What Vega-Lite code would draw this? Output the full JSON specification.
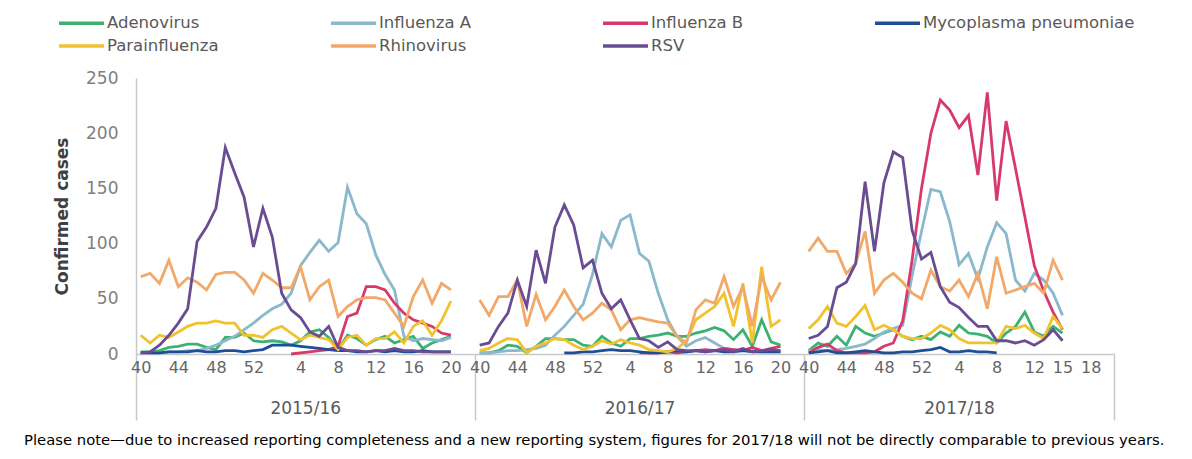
{
"$schema": "https://vega.github.io/schema/vega-lite/v6.json",
"background": "white",
"padding": {"left": 24, "top": 12, "right": 5, "bottom": 5},
"title": {"text": "Please note—due to increased reporting completeness and a new reporting system, figures for 2017/18 will not be directly comparable to previous years.", "orient": "bottom", "anchor": "middle", "font": "DejaVu Sans", "fontSize": 14.8, "fontWeight": "normal", "color": "#000000", "offset": 12},
"spacing": 0,
"bounds": "flush",
"resolve": {"scale": {"color": "shared"}, "legend": {"color": "shared"}},
"config": {"view": {"stroke": null}, "font": "DejaVu Sans", "axis": {"grid": false, "domainColor": "#c8c8c8", "domainWidth": 1.5}},
"data": {"values": [
{"season":"2015/16","week":40,"virus":"Adenovirus","cases":2},{"season":"2015/16","week":41,"virus":"Adenovirus","cases":2},{"season":"2015/16","week":42,"virus":"Adenovirus","cases":3},{"season":"2015/16","week":43,"virus":"Adenovirus","cases":6},{"season":"2015/16","week":44,"virus":"Adenovirus","cases":7},{"season":"2015/16","week":45,"virus":"Adenovirus","cases":9},{"season":"2015/16","week":46,"virus":"Adenovirus","cases":9},{"season":"2015/16","week":47,"virus":"Adenovirus","cases":6},{"season":"2015/16","week":48,"virus":"Adenovirus","cases":4},{"season":"2015/16","week":49,"virus":"Adenovirus","cases":15},{"season":"2015/16","week":50,"virus":"Adenovirus","cases":15},{"season":"2015/16","week":51,"virus":"Adenovirus","cases":19},{"season":"2015/16","week":52,"virus":"Adenovirus","cases":12},{"season":"2015/16","week":53,"virus":"Adenovirus","cases":11},{"season":"2015/16","week":1,"virus":"Adenovirus","cases":12},{"season":"2015/16","week":2,"virus":"Adenovirus","cases":11},{"season":"2015/16","week":3,"virus":"Adenovirus","cases":8},{"season":"2015/16","week":4,"virus":"Adenovirus","cases":12},{"season":"2015/16","week":5,"virus":"Adenovirus","cases":20},{"season":"2015/16","week":6,"virus":"Adenovirus","cases":22},{"season":"2015/16","week":7,"virus":"Adenovirus","cases":15},{"season":"2015/16","week":8,"virus":"Adenovirus","cases":4},{"season":"2015/16","week":9,"virus":"Adenovirus","cases":17},{"season":"2015/16","week":10,"virus":"Adenovirus","cases":14},{"season":"2015/16","week":11,"virus":"Adenovirus","cases":8},{"season":"2015/16","week":12,"virus":"Adenovirus","cases":13},{"season":"2015/16","week":13,"virus":"Adenovirus","cases":16},{"season":"2015/16","week":14,"virus":"Adenovirus","cases":10},{"season":"2015/16","week":15,"virus":"Adenovirus","cases":13},{"season":"2015/16","week":16,"virus":"Adenovirus","cases":16},{"season":"2015/16","week":17,"virus":"Adenovirus","cases":5},{"season":"2015/16","week":18,"virus":"Adenovirus","cases":10},{"season":"2015/16","week":19,"virus":"Adenovirus","cases":13},{"season":"2015/16","week":20,"virus":"Adenovirus","cases":16},
{"season":"2015/16","week":40,"virus":"Influenza A","cases":1},{"season":"2015/16","week":41,"virus":"Influenza A","cases":1},{"season":"2015/16","week":42,"virus":"Influenza A","cases":1},{"season":"2015/16","week":43,"virus":"Influenza A","cases":2},{"season":"2015/16","week":44,"virus":"Influenza A","cases":2},{"season":"2015/16","week":45,"virus":"Influenza A","cases":3},{"season":"2015/16","week":46,"virus":"Influenza A","cases":3},{"season":"2015/16","week":47,"virus":"Influenza A","cases":5},{"season":"2015/16","week":48,"virus":"Influenza A","cases":8},{"season":"2015/16","week":49,"virus":"Influenza A","cases":12},{"season":"2015/16","week":50,"virus":"Influenza A","cases":16},{"season":"2015/16","week":51,"virus":"Influenza A","cases":22},{"season":"2015/16","week":52,"virus":"Influenza A","cases":28},{"season":"2015/16","week":53,"virus":"Influenza A","cases":35},{"season":"2015/16","week":1,"virus":"Influenza A","cases":41},{"season":"2015/16","week":2,"virus":"Influenza A","cases":45},{"season":"2015/16","week":3,"virus":"Influenza A","cases":55},{"season":"2015/16","week":4,"virus":"Influenza A","cases":80},{"season":"2015/16","week":5,"virus":"Influenza A","cases":92},{"season":"2015/16","week":6,"virus":"Influenza A","cases":103},{"season":"2015/16","week":7,"virus":"Influenza A","cases":93},{"season":"2015/16","week":8,"virus":"Influenza A","cases":101},{"season":"2015/16","week":9,"virus":"Influenza A","cases":151},{"season":"2015/16","week":10,"virus":"Influenza A","cases":127},{"season":"2015/16","week":11,"virus":"Influenza A","cases":118},{"season":"2015/16","week":12,"virus":"Influenza A","cases":90},{"season":"2015/16","week":13,"virus":"Influenza A","cases":72},{"season":"2015/16","week":14,"virus":"Influenza A","cases":58},{"season":"2015/16","week":15,"virus":"Influenza A","cases":16},{"season":"2015/16","week":16,"virus":"Influenza A","cases":12},{"season":"2015/16","week":17,"virus":"Influenza A","cases":14},{"season":"2015/16","week":18,"virus":"Influenza A","cases":13},{"season":"2015/16","week":19,"virus":"Influenza A","cases":12},{"season":"2015/16","week":20,"virus":"Influenza A","cases":15},
{"season":"2015/16","week":3,"virus":"Influenza B","cases":0},{"season":"2015/16","week":4,"virus":"Influenza B","cases":1},{"season":"2015/16","week":5,"virus":"Influenza B","cases":2},{"season":"2015/16","week":6,"virus":"Influenza B","cases":3},{"season":"2015/16","week":7,"virus":"Influenza B","cases":4},{"season":"2015/16","week":8,"virus":"Influenza B","cases":7},{"season":"2015/16","week":9,"virus":"Influenza B","cases":34},{"season":"2015/16","week":10,"virus":"Influenza B","cases":37},{"season":"2015/16","week":11,"virus":"Influenza B","cases":61},{"season":"2015/16","week":12,"virus":"Influenza B","cases":61},{"season":"2015/16","week":13,"virus":"Influenza B","cases":58},{"season":"2015/16","week":14,"virus":"Influenza B","cases":46},{"season":"2015/16","week":15,"virus":"Influenza B","cases":37},{"season":"2015/16","week":16,"virus":"Influenza B","cases":31},{"season":"2015/16","week":17,"virus":"Influenza B","cases":28},{"season":"2015/16","week":18,"virus":"Influenza B","cases":25},{"season":"2015/16","week":19,"virus":"Influenza B","cases":19},{"season":"2015/16","week":20,"virus":"Influenza B","cases":17},
{"season":"2015/16","week":40,"virus":"Mycoplasma pneumoniae","cases":1},{"season":"2015/16","week":41,"virus":"Mycoplasma pneumoniae","cases":1},{"season":"2015/16","week":42,"virus":"Mycoplasma pneumoniae","cases":1},{"season":"2015/16","week":43,"virus":"Mycoplasma pneumoniae","cases":2},{"season":"2015/16","week":44,"virus":"Mycoplasma pneumoniae","cases":2},{"season":"2015/16","week":45,"virus":"Mycoplasma pneumoniae","cases":2},{"season":"2015/16","week":46,"virus":"Mycoplasma pneumoniae","cases":3},{"season":"2015/16","week":47,"virus":"Mycoplasma pneumoniae","cases":2},{"season":"2015/16","week":48,"virus":"Mycoplasma pneumoniae","cases":2},{"season":"2015/16","week":49,"virus":"Mycoplasma pneumoniae","cases":3},{"season":"2015/16","week":50,"virus":"Mycoplasma pneumoniae","cases":3},{"season":"2015/16","week":51,"virus":"Mycoplasma pneumoniae","cases":2},{"season":"2015/16","week":52,"virus":"Mycoplasma pneumoniae","cases":3},{"season":"2015/16","week":53,"virus":"Mycoplasma pneumoniae","cases":4},{"season":"2015/16","week":1,"virus":"Mycoplasma pneumoniae","cases":8},{"season":"2015/16","week":2,"virus":"Mycoplasma pneumoniae","cases":8},{"season":"2015/16","week":3,"virus":"Mycoplasma pneumoniae","cases":8},{"season":"2015/16","week":4,"virus":"Mycoplasma pneumoniae","cases":7},{"season":"2015/16","week":5,"virus":"Mycoplasma pneumoniae","cases":6},{"season":"2015/16","week":6,"virus":"Mycoplasma pneumoniae","cases":5},{"season":"2015/16","week":7,"virus":"Mycoplasma pneumoniae","cases":4},{"season":"2015/16","week":8,"virus":"Mycoplasma pneumoniae","cases":3},{"season":"2015/16","week":9,"virus":"Mycoplasma pneumoniae","cases":3},{"season":"2015/16","week":10,"virus":"Mycoplasma pneumoniae","cases":2},{"season":"2015/16","week":11,"virus":"Mycoplasma pneumoniae","cases":2},{"season":"2015/16","week":12,"virus":"Mycoplasma pneumoniae","cases":3},{"season":"2015/16","week":13,"virus":"Mycoplasma pneumoniae","cases":2},{"season":"2015/16","week":14,"virus":"Mycoplasma pneumoniae","cases":3},{"season":"2015/16","week":15,"virus":"Mycoplasma pneumoniae","cases":2},{"season":"2015/16","week":16,"virus":"Mycoplasma pneumoniae","cases":2},{"season":"2015/16","week":17,"virus":"Mycoplasma pneumoniae","cases":3},{"season":"2015/16","week":18,"virus":"Mycoplasma pneumoniae","cases":2},{"season":"2015/16","week":19,"virus":"Mycoplasma pneumoniae","cases":2},{"season":"2015/16","week":20,"virus":"Mycoplasma pneumoniae","cases":2},
{"season":"2015/16","week":40,"virus":"Parainfluenza","cases":17},{"season":"2015/16","week":41,"virus":"Parainfluenza","cases":10},{"season":"2015/16","week":42,"virus":"Parainfluenza","cases":17},{"season":"2015/16","week":43,"virus":"Parainfluenza","cases":15},{"season":"2015/16","week":44,"virus":"Parainfluenza","cases":20},{"season":"2015/16","week":45,"virus":"Parainfluenza","cases":25},{"season":"2015/16","week":46,"virus":"Parainfluenza","cases":28},{"season":"2015/16","week":47,"virus":"Parainfluenza","cases":28},{"season":"2015/16","week":48,"virus":"Parainfluenza","cases":30},{"season":"2015/16","week":49,"virus":"Parainfluenza","cases":28},{"season":"2015/16","week":50,"virus":"Parainfluenza","cases":28},{"season":"2015/16","week":51,"virus":"Parainfluenza","cases":17},{"season":"2015/16","week":52,"virus":"Parainfluenza","cases":17},{"season":"2015/16","week":53,"virus":"Parainfluenza","cases":15},{"season":"2015/16","week":1,"virus":"Parainfluenza","cases":22},{"season":"2015/16","week":2,"virus":"Parainfluenza","cases":25},{"season":"2015/16","week":3,"virus":"Parainfluenza","cases":19},{"season":"2015/16","week":4,"virus":"Parainfluenza","cases":13},{"season":"2015/16","week":5,"virus":"Parainfluenza","cases":17},{"season":"2015/16","week":6,"virus":"Parainfluenza","cases":15},{"season":"2015/16","week":7,"virus":"Parainfluenza","cases":13},{"season":"2015/16","week":8,"virus":"Parainfluenza","cases":4},{"season":"2015/16","week":9,"virus":"Parainfluenza","cases":15},{"season":"2015/16","week":10,"virus":"Parainfluenza","cases":17},{"season":"2015/16","week":11,"virus":"Parainfluenza","cases":8},{"season":"2015/16","week":12,"virus":"Parainfluenza","cases":14},{"season":"2015/16","week":13,"virus":"Parainfluenza","cases":14},{"season":"2015/16","week":14,"virus":"Parainfluenza","cases":20},{"season":"2015/16","week":15,"virus":"Parainfluenza","cases":10},{"season":"2015/16","week":16,"virus":"Parainfluenza","cases":25},{"season":"2015/16","week":17,"virus":"Parainfluenza","cases":30},{"season":"2015/16","week":18,"virus":"Parainfluenza","cases":17},{"season":"2015/16","week":19,"virus":"Parainfluenza","cases":30},{"season":"2015/16","week":20,"virus":"Parainfluenza","cases":48},
{"season":"2015/16","week":40,"virus":"Rhinovirus","cases":70},{"season":"2015/16","week":41,"virus":"Rhinovirus","cases":73},{"season":"2015/16","week":42,"virus":"Rhinovirus","cases":64},{"season":"2015/16","week":43,"virus":"Rhinovirus","cases":85},{"season":"2015/16","week":44,"virus":"Rhinovirus","cases":61},{"season":"2015/16","week":45,"virus":"Rhinovirus","cases":69},{"season":"2015/16","week":46,"virus":"Rhinovirus","cases":65},{"season":"2015/16","week":47,"virus":"Rhinovirus","cases":58},{"season":"2015/16","week":48,"virus":"Rhinovirus","cases":72},{"season":"2015/16","week":49,"virus":"Rhinovirus","cases":74},{"season":"2015/16","week":50,"virus":"Rhinovirus","cases":74},{"season":"2015/16","week":51,"virus":"Rhinovirus","cases":67},{"season":"2015/16","week":52,"virus":"Rhinovirus","cases":55},{"season":"2015/16","week":53,"virus":"Rhinovirus","cases":73},{"season":"2015/16","week":1,"virus":"Rhinovirus","cases":67},{"season":"2015/16","week":2,"virus":"Rhinovirus","cases":60},{"season":"2015/16","week":3,"virus":"Rhinovirus","cases":60},{"season":"2015/16","week":4,"virus":"Rhinovirus","cases":79},{"season":"2015/16","week":5,"virus":"Rhinovirus","cases":49},{"season":"2015/16","week":6,"virus":"Rhinovirus","cases":61},{"season":"2015/16","week":7,"virus":"Rhinovirus","cases":67},{"season":"2015/16","week":8,"virus":"Rhinovirus","cases":34},{"season":"2015/16","week":9,"virus":"Rhinovirus","cases":43},{"season":"2015/16","week":10,"virus":"Rhinovirus","cases":49},{"season":"2015/16","week":11,"virus":"Rhinovirus","cases":51},{"season":"2015/16","week":12,"virus":"Rhinovirus","cases":51},{"season":"2015/16","week":13,"virus":"Rhinovirus","cases":49},{"season":"2015/16","week":14,"virus":"Rhinovirus","cases":37},{"season":"2015/16","week":15,"virus":"Rhinovirus","cases":25},{"season":"2015/16","week":16,"virus":"Rhinovirus","cases":52},{"season":"2015/16","week":17,"virus":"Rhinovirus","cases":67},{"season":"2015/16","week":18,"virus":"Rhinovirus","cases":46},{"season":"2015/16","week":19,"virus":"Rhinovirus","cases":64},{"season":"2015/16","week":20,"virus":"Rhinovirus","cases":58},
{"season":"2015/16","week":40,"virus":"RSV","cases":1},{"season":"2015/16","week":41,"virus":"RSV","cases":2},{"season":"2015/16","week":42,"virus":"RSV","cases":8},{"season":"2015/16","week":43,"virus":"RSV","cases":17},{"season":"2015/16","week":44,"virus":"RSV","cases":28},{"season":"2015/16","week":45,"virus":"RSV","cases":41},{"season":"2015/16","week":46,"virus":"RSV","cases":102},{"season":"2015/16","week":47,"virus":"RSV","cases":115},{"season":"2015/16","week":48,"virus":"RSV","cases":132},{"season":"2015/16","week":49,"virus":"RSV","cases":187},{"season":"2015/16","week":50,"virus":"RSV","cases":164},{"season":"2015/16","week":51,"virus":"RSV","cases":142},{"season":"2015/16","week":52,"virus":"RSV","cases":97},{"season":"2015/16","week":53,"virus":"RSV","cases":132},{"season":"2015/16","week":1,"virus":"RSV","cases":106},{"season":"2015/16","week":2,"virus":"RSV","cases":55},{"season":"2015/16","week":3,"virus":"RSV","cases":40},{"season":"2015/16","week":4,"virus":"RSV","cases":33},{"season":"2015/16","week":5,"virus":"RSV","cases":20},{"season":"2015/16","week":6,"virus":"RSV","cases":16},{"season":"2015/16","week":7,"virus":"RSV","cases":25},{"season":"2015/16","week":8,"virus":"RSV","cases":6},{"season":"2015/16","week":9,"virus":"RSV","cases":3},{"season":"2015/16","week":10,"virus":"RSV","cases":3},{"season":"2015/16","week":11,"virus":"RSV","cases":2},{"season":"2015/16","week":12,"virus":"RSV","cases":3},{"season":"2015/16","week":13,"virus":"RSV","cases":3},{"season":"2015/16","week":14,"virus":"RSV","cases":5},{"season":"2015/16","week":15,"virus":"RSV","cases":3},{"season":"2015/16","week":16,"virus":"RSV","cases":3},{"season":"2015/16","week":17,"virus":"RSV","cases":2},{"season":"2015/16","week":18,"virus":"RSV","cases":2},{"season":"2015/16","week":19,"virus":"RSV","cases":2},{"season":"2015/16","week":20,"virus":"RSV","cases":2},
{"season":"2016/17","week":40,"virus":"Adenovirus","cases":1},{"season":"2016/17","week":41,"virus":"Adenovirus","cases":1},{"season":"2016/17","week":42,"virus":"Adenovirus","cases":3},{"season":"2016/17","week":43,"virus":"Adenovirus","cases":8},{"season":"2016/17","week":44,"virus":"Adenovirus","cases":7},{"season":"2016/17","week":45,"virus":"Adenovirus","cases":1},{"season":"2016/17","week":46,"virus":"Adenovirus","cases":7},{"season":"2016/17","week":47,"virus":"Adenovirus","cases":14},{"season":"2016/17","week":48,"virus":"Adenovirus","cases":14},{"season":"2016/17","week":49,"virus":"Adenovirus","cases":13},{"season":"2016/17","week":50,"virus":"Adenovirus","cases":13},{"season":"2016/17","week":51,"virus":"Adenovirus","cases":8},{"season":"2016/17","week":52,"virus":"Adenovirus","cases":7},{"season":"2016/17","week":1,"virus":"Adenovirus","cases":16},{"season":"2016/17","week":2,"virus":"Adenovirus","cases":10},{"season":"2016/17","week":3,"virus":"Adenovirus","cases":7},{"season":"2016/17","week":4,"virus":"Adenovirus","cases":14},{"season":"2016/17","week":5,"virus":"Adenovirus","cases":14},{"season":"2016/17","week":6,"virus":"Adenovirus","cases":16},{"season":"2016/17","week":7,"virus":"Adenovirus","cases":17},{"season":"2016/17","week":8,"virus":"Adenovirus","cases":19},{"season":"2016/17","week":9,"virus":"Adenovirus","cases":16},{"season":"2016/17","week":10,"virus":"Adenovirus","cases":16},{"season":"2016/17","week":11,"virus":"Adenovirus","cases":19},{"season":"2016/17","week":12,"virus":"Adenovirus","cases":21},{"season":"2016/17","week":13,"virus":"Adenovirus","cases":24},{"season":"2016/17","week":14,"virus":"Adenovirus","cases":21},{"season":"2016/17","week":15,"virus":"Adenovirus","cases":13},{"season":"2016/17","week":16,"virus":"Adenovirus","cases":22},{"season":"2016/17","week":17,"virus":"Adenovirus","cases":7},{"season":"2016/17","week":18,"virus":"Adenovirus","cases":31},{"season":"2016/17","week":19,"virus":"Adenovirus","cases":11},{"season":"2016/17","week":20,"virus":"Adenovirus","cases":8},
{"season":"2016/17","week":40,"virus":"Influenza A","cases":1},{"season":"2016/17","week":41,"virus":"Influenza A","cases":1},{"season":"2016/17","week":42,"virus":"Influenza A","cases":2},{"season":"2016/17","week":43,"virus":"Influenza A","cases":3},{"season":"2016/17","week":44,"virus":"Influenza A","cases":3},{"season":"2016/17","week":45,"virus":"Influenza A","cases":4},{"season":"2016/17","week":46,"virus":"Influenza A","cases":5},{"season":"2016/17","week":47,"virus":"Influenza A","cases":8},{"season":"2016/17","week":48,"virus":"Influenza A","cases":17},{"season":"2016/17","week":49,"virus":"Influenza A","cases":25},{"season":"2016/17","week":50,"virus":"Influenza A","cases":35},{"season":"2016/17","week":51,"virus":"Influenza A","cases":45},{"season":"2016/17","week":52,"virus":"Influenza A","cases":72},{"season":"2016/17","week":1,"virus":"Influenza A","cases":109},{"season":"2016/17","week":2,"virus":"Influenza A","cases":97},{"season":"2016/17","week":3,"virus":"Influenza A","cases":121},{"season":"2016/17","week":4,"virus":"Influenza A","cases":126},{"season":"2016/17","week":5,"virus":"Influenza A","cases":91},{"season":"2016/17","week":6,"virus":"Influenza A","cases":84},{"season":"2016/17","week":7,"virus":"Influenza A","cases":55},{"season":"2016/17","week":8,"virus":"Influenza A","cases":31},{"season":"2016/17","week":9,"virus":"Influenza A","cases":16},{"season":"2016/17","week":10,"virus":"Influenza A","cases":7},{"season":"2016/17","week":11,"virus":"Influenza A","cases":12},{"season":"2016/17","week":12,"virus":"Influenza A","cases":15},{"season":"2016/17","week":13,"virus":"Influenza A","cases":10},{"season":"2016/17","week":14,"virus":"Influenza A","cases":5},{"season":"2016/17","week":15,"virus":"Influenza A","cases":4},{"season":"2016/17","week":16,"virus":"Influenza A","cases":3},{"season":"2016/17","week":17,"virus":"Influenza A","cases":3},{"season":"2016/17","week":18,"virus":"Influenza A","cases":2},{"season":"2016/17","week":19,"virus":"Influenza A","cases":2},{"season":"2016/17","week":20,"virus":"Influenza A","cases":2},
{"season":"2016/17","week":5,"virus":"Influenza B","cases":1},{"season":"2016/17","week":6,"virus":"Influenza B","cases":1},{"season":"2016/17","week":7,"virus":"Influenza B","cases":1},{"season":"2016/17","week":8,"virus":"Influenza B","cases":2},{"season":"2016/17","week":9,"virus":"Influenza B","cases":1},{"season":"2016/17","week":10,"virus":"Influenza B","cases":2},{"season":"2016/17","week":11,"virus":"Influenza B","cases":3},{"season":"2016/17","week":12,"virus":"Influenza B","cases":4},{"season":"2016/17","week":13,"virus":"Influenza B","cases":3},{"season":"2016/17","week":14,"virus":"Influenza B","cases":5},{"season":"2016/17","week":15,"virus":"Influenza B","cases":4},{"season":"2016/17","week":16,"virus":"Influenza B","cases":3},{"season":"2016/17","week":17,"virus":"Influenza B","cases":6},{"season":"2016/17","week":18,"virus":"Influenza B","cases":3},{"season":"2016/17","week":19,"virus":"Influenza B","cases":5},{"season":"2016/17","week":20,"virus":"Influenza B","cases":7},
{"season":"2016/17","week":49,"virus":"Mycoplasma pneumoniae","cases":1},{"season":"2016/17","week":50,"virus":"Mycoplasma pneumoniae","cases":1},{"season":"2016/17","week":51,"virus":"Mycoplasma pneumoniae","cases":2},{"season":"2016/17","week":52,"virus":"Mycoplasma pneumoniae","cases":2},{"season":"2016/17","week":1,"virus":"Mycoplasma pneumoniae","cases":3},{"season":"2016/17","week":2,"virus":"Mycoplasma pneumoniae","cases":4},{"season":"2016/17","week":3,"virus":"Mycoplasma pneumoniae","cases":3},{"season":"2016/17","week":4,"virus":"Mycoplasma pneumoniae","cases":3},{"season":"2016/17","week":5,"virus":"Mycoplasma pneumoniae","cases":2},{"season":"2016/17","week":6,"virus":"Mycoplasma pneumoniae","cases":1},{"season":"2016/17","week":7,"virus":"Mycoplasma pneumoniae","cases":1},{"season":"2016/17","week":8,"virus":"Mycoplasma pneumoniae","cases":2},{"season":"2016/17","week":9,"virus":"Mycoplasma pneumoniae","cases":3},{"season":"2016/17","week":10,"virus":"Mycoplasma pneumoniae","cases":2},{"season":"2016/17","week":11,"virus":"Mycoplasma pneumoniae","cases":3},{"season":"2016/17","week":12,"virus":"Mycoplasma pneumoniae","cases":2},{"season":"2016/17","week":13,"virus":"Mycoplasma pneumoniae","cases":3},{"season":"2016/17","week":14,"virus":"Mycoplasma pneumoniae","cases":2},{"season":"2016/17","week":15,"virus":"Mycoplasma pneumoniae","cases":2},{"season":"2016/17","week":16,"virus":"Mycoplasma pneumoniae","cases":3},{"season":"2016/17","week":17,"virus":"Mycoplasma pneumoniae","cases":2},{"season":"2016/17","week":18,"virus":"Mycoplasma pneumoniae","cases":2},{"season":"2016/17","week":19,"virus":"Mycoplasma pneumoniae","cases":2},{"season":"2016/17","week":20,"virus":"Mycoplasma pneumoniae","cases":2},
{"season":"2016/17","week":40,"virus":"Parainfluenza","cases":3},{"season":"2016/17","week":41,"virus":"Parainfluenza","cases":5},{"season":"2016/17","week":42,"virus":"Parainfluenza","cases":10},{"season":"2016/17","week":43,"virus":"Parainfluenza","cases":14},{"season":"2016/17","week":44,"virus":"Parainfluenza","cases":13},{"season":"2016/17","week":45,"virus":"Parainfluenza","cases":1},{"season":"2016/17","week":46,"virus":"Parainfluenza","cases":7},{"season":"2016/17","week":47,"virus":"Parainfluenza","cases":10},{"season":"2016/17","week":48,"virus":"Parainfluenza","cases":14},{"season":"2016/17","week":49,"virus":"Parainfluenza","cases":13},{"season":"2016/17","week":50,"virus":"Parainfluenza","cases":8},{"season":"2016/17","week":51,"virus":"Parainfluenza","cases":4},{"season":"2016/17","week":52,"virus":"Parainfluenza","cases":7},{"season":"2016/17","week":1,"virus":"Parainfluenza","cases":12},{"season":"2016/17","week":2,"virus":"Parainfluenza","cases":9},{"season":"2016/17","week":3,"virus":"Parainfluenza","cases":13},{"season":"2016/17","week":4,"virus":"Parainfluenza","cases":10},{"season":"2016/17","week":5,"virus":"Parainfluenza","cases":8},{"season":"2016/17","week":6,"virus":"Parainfluenza","cases":4},{"season":"2016/17","week":7,"virus":"Parainfluenza","cases":3},{"season":"2016/17","week":8,"virus":"Parainfluenza","cases":2},{"season":"2016/17","week":9,"virus":"Parainfluenza","cases":5},{"season":"2016/17","week":10,"virus":"Parainfluenza","cases":12},{"season":"2016/17","week":11,"virus":"Parainfluenza","cases":31},{"season":"2016/17","week":12,"virus":"Parainfluenza","cases":37},{"season":"2016/17","week":13,"virus":"Parainfluenza","cases":43},{"season":"2016/17","week":14,"virus":"Parainfluenza","cases":55},{"season":"2016/17","week":15,"virus":"Parainfluenza","cases":25},{"season":"2016/17","week":16,"virus":"Parainfluenza","cases":64},{"season":"2016/17","week":17,"virus":"Parainfluenza","cases":10},{"season":"2016/17","week":18,"virus":"Parainfluenza","cases":79},{"season":"2016/17","week":19,"virus":"Parainfluenza","cases":25},{"season":"2016/17","week":20,"virus":"Parainfluenza","cases":31},
{"season":"2016/17","week":40,"virus":"Rhinovirus","cases":49},{"season":"2016/17","week":41,"virus":"Rhinovirus","cases":35},{"season":"2016/17","week":42,"virus":"Rhinovirus","cases":52},{"season":"2016/17","week":43,"virus":"Rhinovirus","cases":52},{"season":"2016/17","week":44,"virus":"Rhinovirus","cases":67},{"season":"2016/17","week":45,"virus":"Rhinovirus","cases":25},{"season":"2016/17","week":46,"virus":"Rhinovirus","cases":54},{"season":"2016/17","week":47,"virus":"Rhinovirus","cases":31},{"season":"2016/17","week":48,"virus":"Rhinovirus","cases":43},{"season":"2016/17","week":49,"virus":"Rhinovirus","cases":58},{"season":"2016/17","week":50,"virus":"Rhinovirus","cases":43},{"season":"2016/17","week":51,"virus":"Rhinovirus","cases":31},{"season":"2016/17","week":52,"virus":"Rhinovirus","cases":37},{"season":"2016/17","week":1,"virus":"Rhinovirus","cases":46},{"season":"2016/17","week":2,"virus":"Rhinovirus","cases":40},{"season":"2016/17","week":3,"virus":"Rhinovirus","cases":22},{"season":"2016/17","week":4,"virus":"Rhinovirus","cases":31},{"season":"2016/17","week":5,"virus":"Rhinovirus","cases":33},{"season":"2016/17","week":6,"virus":"Rhinovirus","cases":31},{"season":"2016/17","week":7,"virus":"Rhinovirus","cases":29},{"season":"2016/17","week":8,"virus":"Rhinovirus","cases":28},{"season":"2016/17","week":9,"virus":"Rhinovirus","cases":16},{"season":"2016/17","week":10,"virus":"Rhinovirus","cases":10},{"season":"2016/17","week":11,"virus":"Rhinovirus","cases":40},{"season":"2016/17","week":12,"virus":"Rhinovirus","cases":49},{"season":"2016/17","week":13,"virus":"Rhinovirus","cases":46},{"season":"2016/17","week":14,"virus":"Rhinovirus","cases":70},{"season":"2016/17","week":15,"virus":"Rhinovirus","cases":43},{"season":"2016/17","week":16,"virus":"Rhinovirus","cases":61},{"season":"2016/17","week":17,"virus":"Rhinovirus","cases":25},{"season":"2016/17","week":18,"virus":"Rhinovirus","cases":70},{"season":"2016/17","week":19,"virus":"Rhinovirus","cases":49},{"season":"2016/17","week":20,"virus":"Rhinovirus","cases":65},
{"season":"2016/17","week":40,"virus":"RSV","cases":8},{"season":"2016/17","week":41,"virus":"RSV","cases":10},{"season":"2016/17","week":42,"virus":"RSV","cases":25},{"season":"2016/17","week":43,"virus":"RSV","cases":37},{"season":"2016/17","week":44,"virus":"RSV","cases":67},{"season":"2016/17","week":45,"virus":"RSV","cases":43},{"season":"2016/17","week":46,"virus":"RSV","cases":94},{"season":"2016/17","week":47,"virus":"RSV","cases":64},{"season":"2016/17","week":48,"virus":"RSV","cases":115},{"season":"2016/17","week":49,"virus":"RSV","cases":135},{"season":"2016/17","week":50,"virus":"RSV","cases":117},{"season":"2016/17","week":51,"virus":"RSV","cases":78},{"season":"2016/17","week":52,"virus":"RSV","cases":85},{"season":"2016/17","week":1,"virus":"RSV","cases":55},{"season":"2016/17","week":2,"virus":"RSV","cases":41},{"season":"2016/17","week":3,"virus":"RSV","cases":49},{"season":"2016/17","week":4,"virus":"RSV","cases":31},{"season":"2016/17","week":5,"virus":"RSV","cases":14},{"season":"2016/17","week":6,"virus":"RSV","cases":12},{"season":"2016/17","week":7,"virus":"RSV","cases":6},{"season":"2016/17","week":8,"virus":"RSV","cases":11},{"season":"2016/17","week":9,"virus":"RSV","cases":4},{"season":"2016/17","week":10,"virus":"RSV","cases":3},{"season":"2016/17","week":11,"virus":"RSV","cases":3},{"season":"2016/17","week":12,"virus":"RSV","cases":2},{"season":"2016/17","week":13,"virus":"RSV","cases":3},{"season":"2016/17","week":14,"virus":"RSV","cases":4},{"season":"2016/17","week":15,"virus":"RSV","cases":2},{"season":"2016/17","week":16,"virus":"RSV","cases":5},{"season":"2016/17","week":17,"virus":"RSV","cases":2},{"season":"2016/17","week":18,"virus":"RSV","cases":3},{"season":"2016/17","week":19,"virus":"RSV","cases":4},{"season":"2016/17","week":20,"virus":"RSV","cases":3},
{"season":"2017/18","week":40,"virus":"Adenovirus","cases":3},{"season":"2017/18","week":41,"virus":"Adenovirus","cases":10},{"season":"2017/18","week":42,"virus":"Adenovirus","cases":7},{"season":"2017/18","week":43,"virus":"Adenovirus","cases":16},{"season":"2017/18","week":44,"virus":"Adenovirus","cases":8},{"season":"2017/18","week":45,"virus":"Adenovirus","cases":25},{"season":"2017/18","week":46,"virus":"Adenovirus","cases":19},{"season":"2017/18","week":47,"virus":"Adenovirus","cases":16},{"season":"2017/18","week":48,"virus":"Adenovirus","cases":19},{"season":"2017/18","week":49,"virus":"Adenovirus","cases":22},{"season":"2017/18","week":50,"virus":"Adenovirus","cases":16},{"season":"2017/18","week":51,"virus":"Adenovirus","cases":13},{"season":"2017/18","week":52,"virus":"Adenovirus","cases":16},{"season":"2017/18","week":1,"virus":"Adenovirus","cases":13},{"season":"2017/18","week":2,"virus":"Adenovirus","cases":20},{"season":"2017/18","week":3,"virus":"Adenovirus","cases":16},{"season":"2017/18","week":4,"virus":"Adenovirus","cases":26},{"season":"2017/18","week":5,"virus":"Adenovirus","cases":19},{"season":"2017/18","week":6,"virus":"Adenovirus","cases":18},{"season":"2017/18","week":7,"virus":"Adenovirus","cases":16},{"season":"2017/18","week":8,"virus":"Adenovirus","cases":10},{"season":"2017/18","week":9,"virus":"Adenovirus","cases":19},{"season":"2017/18","week":10,"virus":"Adenovirus","cases":25},{"season":"2017/18","week":11,"virus":"Adenovirus","cases":38},{"season":"2017/18","week":12,"virus":"Adenovirus","cases":20},{"season":"2017/18","week":13,"virus":"Adenovirus","cases":16},{"season":"2017/18","week":14,"virus":"Adenovirus","cases":25},{"season":"2017/18","week":15,"virus":"Adenovirus","cases":19},
{"season":"2017/18","week":40,"virus":"Influenza A","cases":3},{"season":"2017/18","week":41,"virus":"Influenza A","cases":4},{"season":"2017/18","week":42,"virus":"Influenza A","cases":3},{"season":"2017/18","week":43,"virus":"Influenza A","cases":4},{"season":"2017/18","week":44,"virus":"Influenza A","cases":5},{"season":"2017/18","week":45,"virus":"Influenza A","cases":7},{"season":"2017/18","week":46,"virus":"Influenza A","cases":9},{"season":"2017/18","week":47,"virus":"Influenza A","cases":14},{"season":"2017/18","week":48,"virus":"Influenza A","cases":20},{"season":"2017/18","week":49,"virus":"Influenza A","cases":23},{"season":"2017/18","week":50,"virus":"Influenza A","cases":26},{"season":"2017/18","week":51,"virus":"Influenza A","cases":71},{"season":"2017/18","week":52,"virus":"Influenza A","cases":111},{"season":"2017/18","week":1,"virus":"Influenza A","cases":149},{"season":"2017/18","week":2,"virus":"Influenza A","cases":147},{"season":"2017/18","week":3,"virus":"Influenza A","cases":120},{"season":"2017/18","week":4,"virus":"Influenza A","cases":81},{"season":"2017/18","week":5,"virus":"Influenza A","cases":91},{"season":"2017/18","week":6,"virus":"Influenza A","cases":68},{"season":"2017/18","week":7,"virus":"Influenza A","cases":97},{"season":"2017/18","week":8,"virus":"Influenza A","cases":119},{"season":"2017/18","week":9,"virus":"Influenza A","cases":109},{"season":"2017/18","week":10,"virus":"Influenza A","cases":67},{"season":"2017/18","week":11,"virus":"Influenza A","cases":57},{"season":"2017/18","week":12,"virus":"Influenza A","cases":73},{"season":"2017/18","week":13,"virus":"Influenza A","cases":67},{"season":"2017/18","week":14,"virus":"Influenza A","cases":55},{"season":"2017/18","week":15,"virus":"Influenza A","cases":35},
{"season":"2017/18","week":40,"virus":"Influenza B","cases":1},{"season":"2017/18","week":41,"virus":"Influenza B","cases":6},{"season":"2017/18","week":42,"virus":"Influenza B","cases":9},{"season":"2017/18","week":43,"virus":"Influenza B","cases":3},{"season":"2017/18","week":44,"virus":"Influenza B","cases":1},{"season":"2017/18","week":45,"virus":"Influenza B","cases":1},{"season":"2017/18","week":46,"virus":"Influenza B","cases":1},{"season":"2017/18","week":47,"virus":"Influenza B","cases":2},{"season":"2017/18","week":48,"virus":"Influenza B","cases":7},{"season":"2017/18","week":49,"virus":"Influenza B","cases":10},{"season":"2017/18","week":50,"virus":"Influenza B","cases":30},{"season":"2017/18","week":51,"virus":"Influenza B","cases":85},{"season":"2017/18","week":52,"virus":"Influenza B","cases":150},{"season":"2017/18","week":1,"virus":"Influenza B","cases":200},{"season":"2017/18","week":2,"virus":"Influenza B","cases":230},{"season":"2017/18","week":3,"virus":"Influenza B","cases":221},{"season":"2017/18","week":4,"virus":"Influenza B","cases":205},{"season":"2017/18","week":5,"virus":"Influenza B","cases":216},{"season":"2017/18","week":6,"virus":"Influenza B","cases":162},{"season":"2017/18","week":7,"virus":"Influenza B","cases":237},{"season":"2017/18","week":8,"virus":"Influenza B","cases":139},{"season":"2017/18","week":9,"virus":"Influenza B","cases":211},{"season":"2017/18","week":10,"virus":"Influenza B","cases":168},{"season":"2017/18","week":11,"virus":"Influenza B","cases":124},{"season":"2017/18","week":12,"virus":"Influenza B","cases":80},{"season":"2017/18","week":13,"virus":"Influenza B","cases":57},{"season":"2017/18","week":14,"virus":"Influenza B","cases":38},{"season":"2017/18","week":15,"virus":"Influenza B","cases":22},
{"season":"2017/18","week":40,"virus":"Mycoplasma pneumoniae","cases":1},{"season":"2017/18","week":41,"virus":"Mycoplasma pneumoniae","cases":2},{"season":"2017/18","week":42,"virus":"Mycoplasma pneumoniae","cases":3},{"season":"2017/18","week":43,"virus":"Mycoplasma pneumoniae","cases":1},{"season":"2017/18","week":44,"virus":"Mycoplasma pneumoniae","cases":1},{"season":"2017/18","week":45,"virus":"Mycoplasma pneumoniae","cases":2},{"season":"2017/18","week":46,"virus":"Mycoplasma pneumoniae","cases":3},{"season":"2017/18","week":47,"virus":"Mycoplasma pneumoniae","cases":2},{"season":"2017/18","week":48,"virus":"Mycoplasma pneumoniae","cases":1},{"season":"2017/18","week":49,"virus":"Mycoplasma pneumoniae","cases":1},{"season":"2017/18","week":50,"virus":"Mycoplasma pneumoniae","cases":2},{"season":"2017/18","week":51,"virus":"Mycoplasma pneumoniae","cases":2},{"season":"2017/18","week":52,"virus":"Mycoplasma pneumoniae","cases":3},{"season":"2017/18","week":1,"virus":"Mycoplasma pneumoniae","cases":4},{"season":"2017/18","week":2,"virus":"Mycoplasma pneumoniae","cases":6},{"season":"2017/18","week":3,"virus":"Mycoplasma pneumoniae","cases":2},{"season":"2017/18","week":4,"virus":"Mycoplasma pneumoniae","cases":2},{"season":"2017/18","week":5,"virus":"Mycoplasma pneumoniae","cases":3},{"season":"2017/18","week":6,"virus":"Mycoplasma pneumoniae","cases":2},{"season":"2017/18","week":7,"virus":"Mycoplasma pneumoniae","cases":2},{"season":"2017/18","week":8,"virus":"Mycoplasma pneumoniae","cases":1},
{"season":"2017/18","week":40,"virus":"Parainfluenza","cases":23},{"season":"2017/18","week":41,"virus":"Parainfluenza","cases":31},{"season":"2017/18","week":42,"virus":"Parainfluenza","cases":43},{"season":"2017/18","week":43,"virus":"Parainfluenza","cases":28},{"season":"2017/18","week":44,"virus":"Parainfluenza","cases":25},{"season":"2017/18","week":45,"virus":"Parainfluenza","cases":34},{"season":"2017/18","week":46,"virus":"Parainfluenza","cases":44},{"season":"2017/18","week":47,"virus":"Parainfluenza","cases":22},{"season":"2017/18","week":48,"virus":"Parainfluenza","cases":26},{"season":"2017/18","week":49,"virus":"Parainfluenza","cases":22},{"season":"2017/18","week":50,"virus":"Parainfluenza","cases":16},{"season":"2017/18","week":51,"virus":"Parainfluenza","cases":14},{"season":"2017/18","week":52,"virus":"Parainfluenza","cases":14},{"season":"2017/18","week":1,"virus":"Parainfluenza","cases":19},{"season":"2017/18","week":2,"virus":"Parainfluenza","cases":26},{"season":"2017/18","week":3,"virus":"Parainfluenza","cases":22},{"season":"2017/18","week":4,"virus":"Parainfluenza","cases":14},{"season":"2017/18","week":5,"virus":"Parainfluenza","cases":10},{"season":"2017/18","week":6,"virus":"Parainfluenza","cases":10},{"season":"2017/18","week":7,"virus":"Parainfluenza","cases":10},{"season":"2017/18","week":8,"virus":"Parainfluenza","cases":10},{"season":"2017/18","week":9,"virus":"Parainfluenza","cases":25},{"season":"2017/18","week":10,"virus":"Parainfluenza","cases":23},{"season":"2017/18","week":11,"virus":"Parainfluenza","cases":26},{"season":"2017/18","week":12,"virus":"Parainfluenza","cases":19},{"season":"2017/18","week":13,"virus":"Parainfluenza","cases":14},{"season":"2017/18","week":14,"virus":"Parainfluenza","cases":34},{"season":"2017/18","week":15,"virus":"Parainfluenza","cases":23},
{"season":"2017/18","week":40,"virus":"Rhinovirus","cases":93},{"season":"2017/18","week":41,"virus":"Rhinovirus","cases":105},{"season":"2017/18","week":42,"virus":"Rhinovirus","cases":93},{"season":"2017/18","week":43,"virus":"Rhinovirus","cases":93},{"season":"2017/18","week":44,"virus":"Rhinovirus","cases":73},{"season":"2017/18","week":45,"virus":"Rhinovirus","cases":82},{"season":"2017/18","week":46,"virus":"Rhinovirus","cases":111},{"season":"2017/18","week":47,"virus":"Rhinovirus","cases":55},{"season":"2017/18","week":48,"virus":"Rhinovirus","cases":67},{"season":"2017/18","week":49,"virus":"Rhinovirus","cases":73},{"season":"2017/18","week":50,"virus":"Rhinovirus","cases":65},{"season":"2017/18","week":51,"virus":"Rhinovirus","cases":55},{"season":"2017/18","week":52,"virus":"Rhinovirus","cases":50},{"season":"2017/18","week":1,"virus":"Rhinovirus","cases":76},{"season":"2017/18","week":2,"virus":"Rhinovirus","cases":61},{"season":"2017/18","week":3,"virus":"Rhinovirus","cases":57},{"season":"2017/18","week":4,"virus":"Rhinovirus","cases":67},{"season":"2017/18","week":5,"virus":"Rhinovirus","cases":52},{"season":"2017/18","week":6,"virus":"Rhinovirus","cases":73},{"season":"2017/18","week":7,"virus":"Rhinovirus","cases":41},{"season":"2017/18","week":8,"virus":"Rhinovirus","cases":88},{"season":"2017/18","week":9,"virus":"Rhinovirus","cases":55},{"season":"2017/18","week":10,"virus":"Rhinovirus","cases":58},{"season":"2017/18","week":11,"virus":"Rhinovirus","cases":61},{"season":"2017/18","week":12,"virus":"Rhinovirus","cases":64},{"season":"2017/18","week":13,"virus":"Rhinovirus","cases":55},{"season":"2017/18","week":14,"virus":"Rhinovirus","cases":85},{"season":"2017/18","week":15,"virus":"Rhinovirus","cases":67},
{"season":"2017/18","week":40,"virus":"RSV","cases":14},{"season":"2017/18","week":41,"virus":"RSV","cases":17},{"season":"2017/18","week":42,"virus":"RSV","cases":25},{"season":"2017/18","week":43,"virus":"RSV","cases":60},{"season":"2017/18","week":44,"virus":"RSV","cases":65},{"season":"2017/18","week":45,"virus":"RSV","cases":82},{"season":"2017/18","week":46,"virus":"RSV","cases":156},{"season":"2017/18","week":47,"virus":"RSV","cases":93},{"season":"2017/18","week":48,"virus":"RSV","cases":155},{"season":"2017/18","week":49,"virus":"RSV","cases":183},{"season":"2017/18","week":50,"virus":"RSV","cases":178},{"season":"2017/18","week":51,"virus":"RSV","cases":112},{"season":"2017/18","week":52,"virus":"RSV","cases":86},{"season":"2017/18","week":1,"virus":"RSV","cases":92},{"season":"2017/18","week":2,"virus":"RSV","cases":61},{"season":"2017/18","week":3,"virus":"RSV","cases":47},{"season":"2017/18","week":4,"virus":"RSV","cases":42},{"season":"2017/18","week":5,"virus":"RSV","cases":33},{"season":"2017/18","week":6,"virus":"RSV","cases":25},{"season":"2017/18","week":7,"virus":"RSV","cases":25},{"season":"2017/18","week":8,"virus":"RSV","cases":12},{"season":"2017/18","week":9,"virus":"RSV","cases":12},{"season":"2017/18","week":10,"virus":"RSV","cases":10},{"season":"2017/18","week":11,"virus":"RSV","cases":12},{"season":"2017/18","week":12,"virus":"RSV","cases":8},{"season":"2017/18","week":13,"virus":"RSV","cases":13},{"season":"2017/18","week":14,"virus":"RSV","cases":22},{"season":"2017/18","week":15,"virus":"RSV","cases":12}
]},
"hconcat": [
{
"width": {"step": 9.4}, "height": 276,
"transform": [{"filter": "datum.season === '2015/16'"}],
"mark": {"type": "line", "strokeWidth": 2.8},
"encoding": {
"x": {"field": "week", "type": "ordinal", "bandPosition": 0.5, "scale": {"type": "band", "paddingInner": 0, "paddingOuter": 0, "domain": [40,41,42,43,44,45,46,47,48,49,50,51,52,53,1,2,3,4,5,6,7,8,9,10,11,12,13,14,15,16,17,18,19,20,21,22]},
"axis": {"values": [40,44,48,52,4,8,12,16,20], "title": "2015/16", "tickBand": "extent", "labelAngle": 0, "tickSize": 66, "tickWidth": 1.5, "tickColor": "#c8c8c8", "tickOpacity": {"condition": {"test": "datum.value == null", "value": 1}, "value": 0}, "labelPadding": -61, "labelFont": "DejaVu Sans", "labelFontSize": 16, "labelColor": "#666666", "titleFont": "DejaVu Sans", "titleFontSize": 17, "titleFontWeight": "normal", "titleColor": "#595959", "titlePadding": -20}},
"y": {"field": "cases", "type": "quantitative", "scale": {"domain": [0, 250]}, "axis": {"title": "Confirmed cases", "values": [0,50,100,150,200,250], "ticks": false, "labelPadding": 18, "labelFont": "DejaVu Sans", "labelFontSize": 17, "labelColor": "#808080", "titleFont": "DejaVu Sans", "titleFontSize": 17, "titleFontWeight": "bold", "titleColor": "#404040", "titlePadding": 14}},
"color": {"field": "virus", "type": "nominal", "scale": {"domain": ["Adenovirus","Influenza A","Influenza B","Mycoplasma pneumoniae","Parainfluenza","Rhinovirus","RSV"], "range": ["#3bb273","#8ab8cc","#d8396b","#1f4e99","#f2c12e","#f2a868","#6a4c93"]},
"legend": {"orient": "none", "legendX": -79, "legendY": -66, "direction": "horizontal", "columns": 4, "title": null, "symbolType": "M-1,0H4", "symbolSize": 324, "symbolStrokeWidth": 3.5, "labelFont": "DejaVu Sans", "labelFontSize": 16.5, "labelColor": "#595959", "labelOffset": 28, "labelLimit": 400, "gridAlign": "all", "columnPadding": 5, "rowPadding": 3}},
"order": {"value": null}
}
},
{
"width": {"step": 9.4}, "height": 276,
"transform": [{"filter": "datum.season === '2016/17'"}],
"mark": {"type": "line", "strokeWidth": 2.8},
"encoding": {
"x": {"field": "week", "type": "ordinal", "bandPosition": 0.5, "scale": {"type": "band", "paddingInner": 0, "paddingOuter": 0, "domain": [40,41,42,43,44,45,46,47,48,49,50,51,52,1,2,3,4,5,6,7,8,9,10,11,12,13,14,15,16,17,18,19,20,21,22]},
"axis": {"values": [40,44,48,52,4,8,12,16,20], "title": "2016/17", "tickBand": "extent", "labelAngle": 0, "tickSize": 66, "tickWidth": 1.5, "tickColor": "#c8c8c8", "tickOpacity": {"condition": {"test": "datum.value == null", "value": 1}, "value": 0}, "labelPadding": -61, "labelFont": "DejaVu Sans", "labelFontSize": 16, "labelColor": "#666666", "titleFont": "DejaVu Sans", "titleFontSize": 17, "titleFontWeight": "normal", "titleColor": "#595959", "titlePadding": -20}},
"y": {"field": "cases", "type": "quantitative", "scale": {"domain": [0, 250]}, "axis": null},
"color": {"field": "virus", "type": "nominal", "scale": {"domain": ["Adenovirus","Influenza A","Influenza B","Mycoplasma pneumoniae","Parainfluenza","Rhinovirus","RSV"], "range": ["#3bb273","#8ab8cc","#d8396b","#1f4e99","#f2c12e","#f2a868","#6a4c93"]},
"legend": {"orient": "none", "legendX": -79, "legendY": -66, "direction": "horizontal", "columns": 4, "title": null, "symbolType": "M-1,0H4", "symbolSize": 324, "symbolStrokeWidth": 3.5, "labelFont": "DejaVu Sans", "labelFontSize": 16.5, "labelColor": "#595959", "labelOffset": 28, "labelLimit": 400, "gridAlign": "all", "columnPadding": 5, "rowPadding": 3}},
"order": {"value": null}
}
},
{
"width": {"step": 9.4}, "height": 276,
"transform": [{"filter": "datum.season === '2017/18'"}],
"mark": {"type": "line", "strokeWidth": 2.8},
"encoding": {
"x": {"field": "week", "type": "ordinal", "bandPosition": 0.5, "scale": {"type": "band", "paddingInner": 0, "paddingOuter": 0, "domain": [40,41,42,43,44,45,46,47,48,49,50,51,52,1,2,3,4,5,6,7,8,9,10,11,12,13,14,15,16,17,18,19,20]},
"axis": {"values": [40,44,48,52,4,8,12,15,18,20], "labelExpr": "datum.value === 20 ? '' : datum.label", "title": "2017/18", "tickBand": "extent", "labelAngle": 0, "tickSize": 66, "tickWidth": 1.5, "tickColor": "#c8c8c8", "tickOpacity": {"condition": {"test": "datum.value == null || datum.value === 20", "value": 1}, "value": 0}, "labelPadding": -61, "labelFont": "DejaVu Sans", "labelFontSize": 16, "labelColor": "#666666", "titleFont": "DejaVu Sans", "titleFontSize": 17, "titleFontWeight": "normal", "titleColor": "#595959", "titlePadding": -20}},
"y": {"field": "cases", "type": "quantitative", "scale": {"domain": [0, 250]}, "axis": null},
"color": {"field": "virus", "type": "nominal", "scale": {"domain": ["Adenovirus","Influenza A","Influenza B","Mycoplasma pneumoniae","Parainfluenza","Rhinovirus","RSV"], "range": ["#3bb273","#8ab8cc","#d8396b","#1f4e99","#f2c12e","#f2a868","#6a4c93"]},
"legend": {"orient": "none", "legendX": -79, "legendY": -66, "direction": "horizontal", "columns": 4, "title": null, "symbolType": "M-1,0H4", "symbolSize": 324, "symbolStrokeWidth": 3.5, "labelFont": "DejaVu Sans", "labelFontSize": 16.5, "labelColor": "#595959", "labelOffset": 28, "labelLimit": 400, "gridAlign": "all", "columnPadding": 5, "rowPadding": 3}},
"order": {"value": null}
}
}
]
}
